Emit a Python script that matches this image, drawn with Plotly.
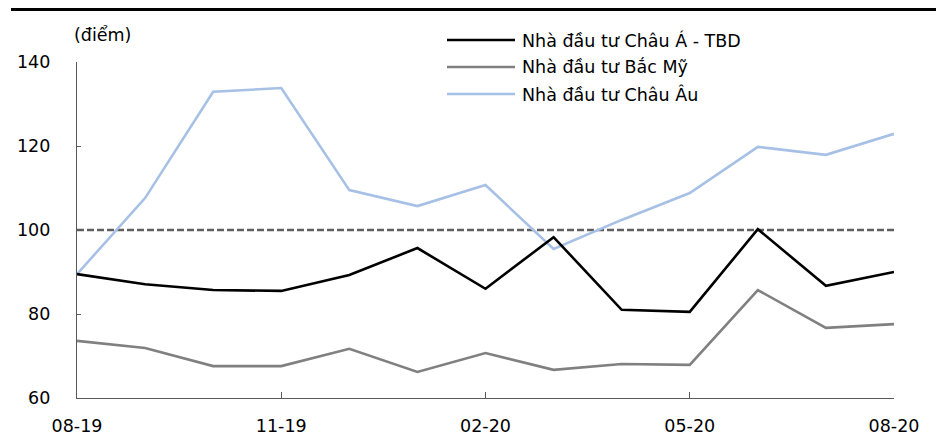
import plotly.graph_objects as go

# Monthly index values, 08-2019 .. 08-2020
months = ["08-19", "09-19", "10-19", "11-19", "12-19", "01-20", "02-20",
          "03-20", "04-20", "05-20", "06-20", "07-20", "08-20"]
tick_months = ["08-19", "11-19", "02-20", "05-20", "08-20"]

asia_pacific = [89.5, 87.1, 85.7, 85.5, 89.3, 95.7, 86.0, 98.3, 81.0, 80.5, 100.2, 86.7, 90.0]
north_america = [73.6, 71.9, 67.6, 67.6, 71.7, 66.2, 70.7, 66.7, 68.1, 67.9, 85.7, 76.7, 77.6]
europe = [89.5, 107.6, 132.9, 133.8, 109.5, 105.7, 110.7, 95.5, 102.4, 108.8, 119.8, 117.9, 122.9]

series_names = ["Nhà đầu tư Châu Á - TBD", "Nhà đầu tư Bắc Mỹ", "Nhà đầu tư Châu Âu"]
series_values = [asia_pacific, north_america, europe]
series_colors = ["#000000", "#808080", "#A7C0E5"]

baseline = 100
y_ticks = [60, 80, 100, 120, 140]

FONT = "DejaVu Sans"
FS = 17.5
W, H = 936, 439
ML, MR, MT, MB = 77, 42, 62, 41
PW, PH = W - ML - MR, H - MT - MB

fig = go.Figure()

# Neutral 100 level
fig.add_trace(go.Scatter(
    x=[months[0], months[-1]], y=[baseline, baseline], mode="lines",
    line=dict(color="#606060", width=2.3, dash="7px,3px"),
    showlegend=False, hoverinfo="skip"))

# Draw lighter series first so the darker lines sit on top
for name, vals, col in reversed(list(zip(series_names, series_values, series_colors))):
    fig.add_trace(go.Scatter(
        x=months, y=vals, mode="lines", name=name,
        line=dict(color=col, width=2.6), showlegend=False))

def px_x(p):
    return (p - ML) / PW

def px_y(p):
    return (H - MB - p) / PH

shapes = [
    # heavy rule across the top of the figure
    dict(type="line", xref="paper", yref="paper",
         x0=px_x(11), x1=px_x(936), y0=px_y(9.5), y1=px_y(9.5),
         line=dict(color="#000000", width=3)),
]
annotations = [
    dict(text="(điểm)", xref="paper", yref="paper", x=px_x(72), y=px_y(35),
         xanchor="left", yanchor="middle", showarrow=False,
         font=dict(family=FONT, size=FS, color="#000000")),
]

# Legend with long line samples
leg_y = [40, 67, 94]
for name, col, yy in zip(series_names, series_colors, leg_y):
    shapes.append(dict(type="line", xref="paper", yref="paper",
                       x0=px_x(447), x1=px_x(515), y0=px_y(yy), y1=px_y(yy),
                       line=dict(color=col, width=2.6)))
    annotations.append(dict(text=name, xref="paper", yref="paper",
                            x=px_x(520), y=px_y(yy), xanchor="left", yanchor="middle",
                            showarrow=False,
                            font=dict(family=FONT, size=FS, color="#000000")))

fig.update_layout(
    width=W, height=H,
    margin=dict(l=ML, r=MR, t=MT, b=MB, pad=0, autoexpand=False),
    paper_bgcolor="white", plot_bgcolor="white",
    font=dict(family=FONT, size=FS, color="#000000"),
    shapes=shapes, annotations=annotations,
    showlegend=False,
)
fig.update_xaxes(
    type="category", categoryorder="array", categoryarray=months,
    range=[0, len(months) - 1], automargin=False,
    tickmode="array", tickvals=tick_months, ticktext=tick_months,
    ticks="inside", ticklen=6, tickcolor="#595959", tickwidth=1.3,
    showline=True, linecolor="#595959", linewidth=1.3,
    showgrid=False, zeroline=False, ticklabelstandoff=12,
)
fig.update_yaxes(
    range=[60, 140], tickmode="array", tickvals=y_ticks, automargin=False,
    ticks="inside", ticklen=4, tickcolor="#595959", tickwidth=1.3,
    showline=True, linecolor="#595959", linewidth=1.3,
    showgrid=False, zeroline=False, ticklabelstandoff=22,
)

fig.write_html("out.html")
